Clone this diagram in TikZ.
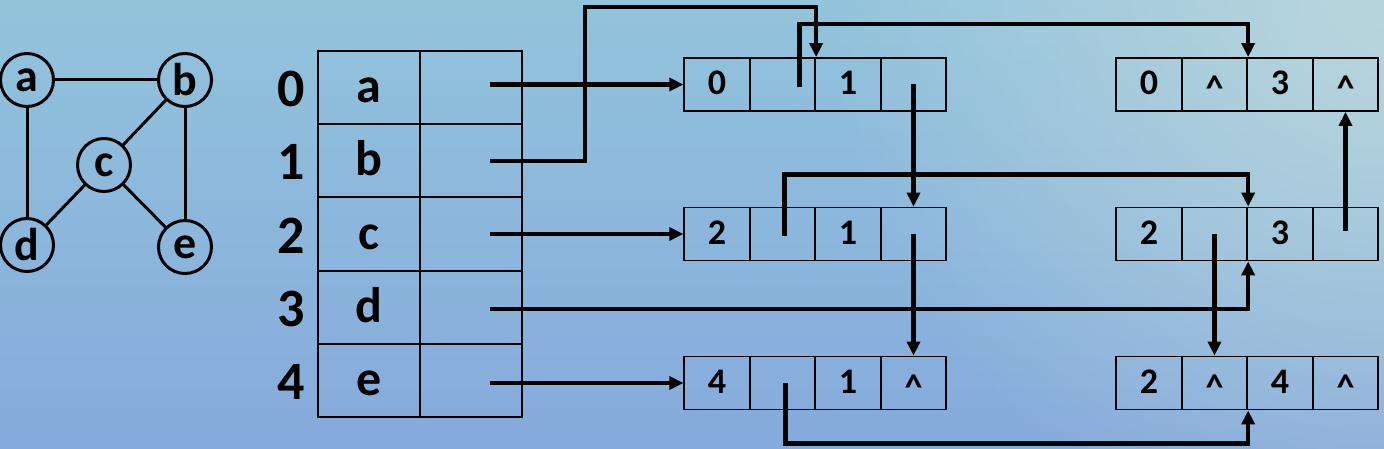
\documentclass[tikz,border=0pt]{standalone}
\usepackage{fontspec}
\setmainfont{Carlito}
\usetikzlibrary{arrows.meta, positioning, fadings}

\definecolor{bgtop}{RGB}{146,196,220}
\definecolor{bgbottom}{RGB}{134,170,220}
\definecolor{bglight}{RGB}{186,214,220}

\tikzfading[name = glow, inner color = transparent!0, outer color = transparent!100]

\newcommand\nullptr{\raisebox{-6pt}{\textasciicircum}}

\begin{document}
\begin{tikzpicture}[
        x = 1pt, y = -1pt,
        node distance = 73.2pt and 65.5pt,
        on grid,
        >= {Triangle[length = 14pt, width = 13pt]},
        vertex/.style = {draw, circle, line width = 3pt, minimum size = 53pt, inner sep = 0pt,
            font = \fontsize{46}{46}\selectfont\bfseries},
        graph edge/.style = {line width = 3pt},
        index/.style = {font = \fontsize{54}{54}\selectfont\bfseries},
        tcell/.style = {draw, line width = 1.8pt, minimum width = 102pt, minimum height = 73.2pt,
            inner sep = 0pt, text height = 30pt, text depth = 0pt,
            font = \fontsize{50}{50}\selectfont\bfseries},
        cell/.style = {draw, line width = 1.8pt, minimum width = 65.5pt, minimum height = 53pt,
            inner sep = 0pt, text height = 20pt, text depth = 0pt,
            font = \fontsize{36}{36}\selectfont\bfseries},
        link/.style = {->, line width = 4.5pt}
    ]

        % background
        \useasboundingbox (0,0) rectangle (1384,449);
        \begin{scope}
            \clip (0,0) rectangle (1384,449);
            \shade[top color = bgtop, bottom color = bgbottom] (0,0) rectangle (1384,449);
            \fill[bglight, path fading = glow] (1384,0) circle (560pt);
        \end{scope}

        % the graph
        \node[vertex] (a) at (27,80) {a};
        \node[vertex] (b) at (185,80) {b};
        \node[vertex] (c) at (104,165) {c};
        \node[vertex] (d) at (27,245) {d};
        \node[vertex] (e) at (185,247) {e};

        \path[graph edge]
            (a) edge (b)
            (a) edge (d)
            (b) edge (c)
            (b) edge (e)
            (c) edge (d)
            (c) edge (e);

        % vertex table
        \node[tcell] (v0) at (369,87.6) {a};
        \node[tcell] (v1) [below = of v0] {b};
        \node[tcell] (v2) [below = of v1] {c};
        \node[tcell] (v3) [below = of v2] {d};
        \node[tcell] (v4) [below = of v3] {e};
        \node[tcell] (p0) [right = 102pt of v0] {};
        \node[tcell] (p1) [right = 102pt of v1] {};
        \node[tcell] (p2) [right = 102pt of v2] {};
        \node[tcell] (p3) [right = 102pt of v3] {};
        \node[tcell] (p4) [right = 102pt of v4] {};

        \node[index] (i0) at (291,89) {0};
        \node[index] (i1) at (291,162) {1};
        \node[index] (i2) at (291,236) {2};
        \node[index] (i3) at (291,309) {3};
        \node[index] (i4) at (291,382) {4};

        % edge nodes
        \node[cell] (ab1) at (717,84.5) {0};
        \node[cell] (ab2) [right = of ab1] {};
        \node[cell] (ab3) [right = of ab2] {1};
        \node[cell] (ab4) [right = of ab3] {};

        \node[cell] (ad1) at (1149,84.5) {0};
        \node[cell] (ad2) [right = of ad1] {\nullptr};
        \node[cell] (ad3) [right = of ad2] {3};
        \node[cell] (ad4) [right = of ad3] {\nullptr};

        \node[cell] (cb1) at (717,234) {2};
        \node[cell] (cb2) [right = of cb1] {};
        \node[cell] (cb3) [right = of cb2] {1};
        \node[cell] (cb4) [right = of cb3] {};

        \node[cell] (cd1) at (1149,234) {2};
        \node[cell] (cd2) [right = of cd1] {};
        \node[cell] (cd3) [right = of cd2] {3};
        \node[cell] (cd4) [right = of cd3] {};

        \node[cell] (eb1) at (717,383) {4};
        \node[cell] (eb2) [right = of eb1] {};
        \node[cell] (eb3) [right = of eb2] {1};
        \node[cell] (eb4) [right = of eb3] {\nullptr};

        \node[cell] (ce1) at (1149,383) {2};
        \node[cell] (ce2) [right = of ce1] {\nullptr};
        \node[cell] (ce3) [right = of ce2] {4};
        \node[cell] (ce4) [right = of ce3] {\nullptr};

        % pointers
        \draw[link] ([xshift = 19pt]p0.center |- ab1.west) -- (ab1.west);
        \draw[link] ([xshift = 19pt]p1.center) -- ++(95,0) |- ([yshift = 50pt]ab2.north east) -- (ab2.north east);
        \draw[link] ([xshift = 17pt, yshift = -3pt]ab2.center) |- ([yshift = 33pt]ad2.north east) -- (ad2.north east);
        \draw[link] (ab4.center) -- (cb4.north);
        \draw[link] ([xshift = 19pt]p2.center |- cb1.west) -- (cb1.west);
        \draw[link] ([xshift = 2pt, yshift = -2pt]cb2.center) |- ([yshift = 32pt]cd2.north east) -- (cd2.north east);
        \draw[link] (cb4.center) -- (eb4.north);
        \draw[link] ([xshift = 19pt, yshift = -2pt]p3.center) -| (cd2.south east);
        \draw[link] (cd2.center) -- (ce2.north);
        \draw[link] ([yshift = 3pt]cd4.center) -- (ad4.south);
        \draw[link] ([xshift = 19pt]p4.center |- eb1.west) -- (eb1.west);
        \draw[link] ([xshift = 3pt]eb2.center) |- ([yshift = -33pt]ce2.south east) -- (ce2.south east);

\end{tikzpicture}
\end{document}
